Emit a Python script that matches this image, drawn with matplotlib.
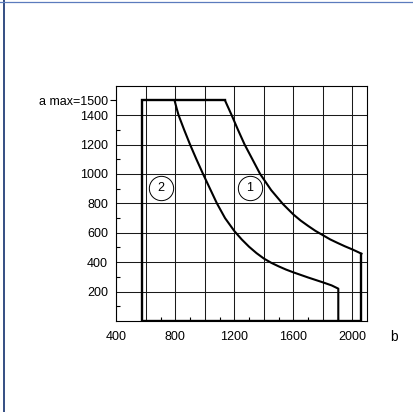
import numpy as np
import matplotlib.pyplot as plt
from matplotlib.lines import Line2D

plt.rcParams['font.family'] = ['Liberation Sans', 'DejaVu Sans']
plt.rcParams['font.size'] = 9

# zone boundaries (b on x, a on y)
b_left = 574
a_max = 1500

# curve 1: outer limit
curve1_b = [1137, 1182, 1225, 1270, 1320, 1375, 1450, 1530, 1600, 1650,
            1700, 1750, 1800, 1850, 1900, 1950, 2000, 2062]
curve1_a = [1500, 1400, 1300, 1200, 1105, 1000, 890, 795, 725, 683,
            647, 613, 584, 555, 531, 508, 487, 458]

# curve 2: inner limit
curve2_b = [795, 808, 822, 860, 900, 943, 988, 1035, 1082, 1137, 1200,
            1250, 1300, 1350, 1400, 1450, 1500, 1550, 1600, 1700, 1803,
            1860, 1905]
curve2_a = [1500, 1450, 1400, 1300, 1200, 1100, 1000, 900, 800, 700, 612,
            555, 505, 462, 425, 396, 372, 350, 331, 296, 262,
            242, 220]

x_grid = [400, 600, 800, 1000, 1200, 1400, 1600, 1800, 2000]
x_labels = ['400', '', '800', '', '1200', '', '1600', '', '2000']
x_minor = [700, 900, 1100, 1300, 1500, 1700, 1900]

y_ticks = [200, 400, 600, 800, 1000, 1200, 1400, 1500]
y_labels = ['200', '400', '600', '800', '1000', '1200', '1400', 'a max=1500']
y_minor = [100, 300, 500, 700, 900, 1100, 1300]

# circled zone markers
zone_b = [1306, 701]
zone_a = [903, 903]
zone_names = ['1', '2']

fig = plt.figure(figsize=(4.14, 4.12), dpi=100)
ax = fig.add_axes([0.281, 0.2209, 0.6056, 0.5709])
ax.set_xlim(400, 2100)
ax.set_ylim(0, 1600)

ax.set_xticks(x_grid, labels=x_labels)
ax.set_xticks(x_minor, minor=True)
ax.set_yticks(y_ticks, labels=y_labels)
ax.set_yticks(y_minor, minor=True)

ax.tick_params(axis='x', which='major', length=0, pad=7)
ax.tick_params(axis='y', which='major', length=4.5, width=0.8, pad=1.5)
ax.tick_params(which='minor', direction='in', length=3, width=0.8)
ax.tick_params(labelsize=9)

ax.grid(True, which='major', color='#1a1a1a', linewidth=0.75)
for tick in ax.yaxis.get_major_ticks():
    if tick.get_loc() == a_max:
        tick.gridline.set_visible(False)
    else:
        tick.tick1line.set_visible(False)

for s in ax.spines.values():
    s.set_linewidth(0.8)

# outline of the working range
ax.plot([curve1_b[-1], curve1_b[-1], b_left, b_left, curve1_b[0]],
        [curve1_a[-1], 0, 0, a_max, a_max], color='black', lw=1.7,
        solid_joinstyle='miter', zorder=3)
ax.plot(curve1_b, curve1_a, color='black', lw=1.5,
        solid_joinstyle='round', zorder=3)
ax.plot(curve2_b + [curve2_b[-1]], curve2_a + [0], color='black', lw=1.5,
        solid_joinstyle='round', zorder=3)

for bx, ay, name in zip(zone_b, zone_a, zone_names):
    ax.plot(bx, ay, marker='o', ms=17.5, mfc='white', mec='black', mew=0.7, zorder=4)
    ax.text(bx, ay, name, ha='center', va='center', fontsize=9, zorder=5)

ax.text(1.108, -0.068, 'b', transform=ax.transAxes, ha='center', va='center', fontsize=10)

# page frame edges
fig.add_artist(Line2D([4.5 / 414, 4.5 / 414], [0, 1], color='#24407a', lw=1.3))
fig.add_artist(Line2D([0, 1], [1 - 1.5 / 412, 1 - 1.5 / 412], color='#5b7bbd', lw=0.9))

fig.savefig('out.png', dpi=100)
